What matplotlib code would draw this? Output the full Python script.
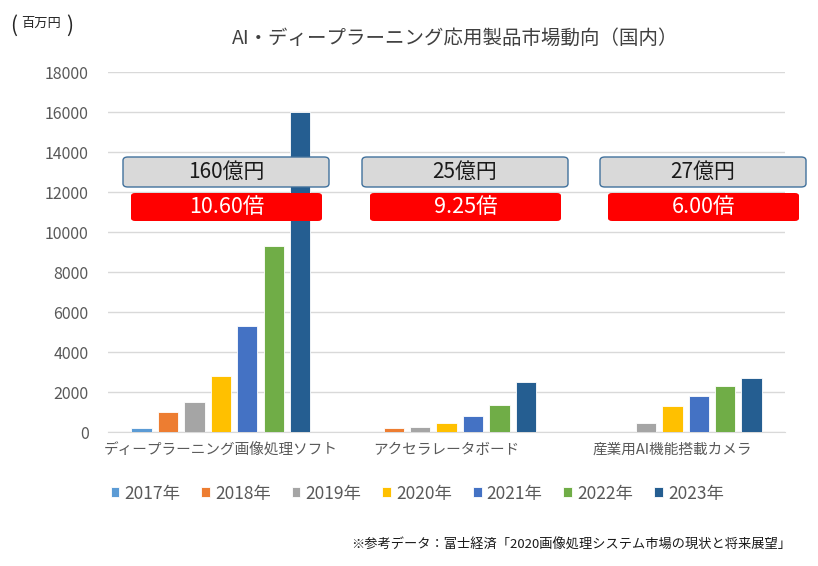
import matplotlib.pyplot as plt
import numpy as np
from matplotlib.patches import FancyBboxPatch

plt.rcParams['font.family'] = ['Noto Sans CJK JP', 'DejaVu Sans']

# data (million yen)
categories = ['ディープラーニング画像処理ソフト', 'アクセラレータボード', '産業用AI機能搭載カメラ']
years = ['2017年', '2018年', '2019年', '2020年', '2021年', '2022年', '2023年']
values = [
    [200, 0, 0],        # 2017
    [1000, 200, 0],     # 2018
    [1500, 270, 450],   # 2019
    [2800, 450, 1300],  # 2020
    [5300, 800, 1800],  # 2021
    [9300, 1350, 2300], # 2022
    [16000, 2500, 2700] # 2023
]
totals = ['160億円', '25億円', '27億円']
ratios = ['10.60倍', '9.25倍', '6.00倍']
colors = ['#5B9BD5', '#ED7D31', '#A5A5A5', '#FFC000', '#4472C4', '#70AD47', '#255E91']

fig = plt.figure(figsize=(8.18, 5.66), dpi=100)
ax = fig.add_axes([0.132, 0.2367, 0.828, 0.636])

x = np.arange(len(categories))
slot = 0.117
width = 0.09
for i, (yr, vals) in enumerate(zip(years, values)):
    ax.bar(x + (i - 3) * slot, vals, width, color=colors[i], label=yr,
           edgecolor='white', linewidth=0.6, zorder=3)

ax.set_xlim(-0.5, 2.5)
ax.set_ylim(0, 18000)
ax.set_yticks(np.arange(0, 18001, 2000))
ax.set_xticks(x)
ax.set_xticklabels(categories, fontsize=10.5, color='#595959')
ax.tick_params(axis='y', labelsize=11.5, colors='#595959', length=0, pad=14)
ax.tick_params(axis='x', length=0, pad=8)
ax.grid(axis='y', color='#d9d9d9', linewidth=1, zorder=0)
for s in ['top', 'right', 'left']:
    ax.spines[s].set_visible(False)
ax.spines['bottom'].set_color('#d9d9d9')

# title and unit
fig.text(0.556, 0.933, 'AI・ディープラーニング応用製品市場動向（国内）', ha='center', va='center',
         fontsize=14, color='#404040')
fig.text(0.012, 0.955, '(', fontsize=15, va='center', color='#262626')
fig.text(0.026, 0.958, '百万円', fontsize=9.5, va='center', color='#262626')
fig.text(0.081, 0.955, ')', fontsize=15, va='center', color='#262626')

# annotation boxes (figure coords)
box_x = [123, 362, 600]
for bx, tot, rat in zip(box_x, totals, ratios):
    w = 206 / 818
    gx = bx / 818
    gy = (566 - 187) / 566
    gh = 30 / 566
    gray = FancyBboxPatch((gx, gy), w, gh, boxstyle='round,pad=0,rounding_size=0.006',
                          transform=fig.transFigure, facecolor='#d9d9d9',
                          edgecolor='#41719C', linewidth=1, zorder=5)
    fig.patches.append(gray)
    fig.text(gx + w / 2, gy + gh / 2, tot, ha='center', va='center', fontsize=15,
             color='#1a1a1a', zorder=6)
    rx = (bx + 8) / 818
    rw = 191 / 818
    ry = (566 - 221) / 566
    rh = 28 / 566
    red = FancyBboxPatch((rx, ry), rw, rh, boxstyle='round,pad=0,rounding_size=0.005',
                         transform=fig.transFigure, facecolor='#FF0000',
                         edgecolor='none', zorder=5)
    fig.patches.append(red)
    fig.text(rx + rw / 2, ry + rh / 2, rat, ha='center', va='center', fontsize=15.5,
             color='white', zorder=6)

leg = fig.legend(loc='center left', bbox_to_anchor=(0.116, 0.128), ncol=7, frameon=False,
                 fontsize=12.5, handlelength=0.5, handleheight=0.5, handletextpad=0.3,
                 columnspacing=1.2, labelcolor='#595959')

fig.text(0.967, 0.037, '※参考データ：富士経済「2020画像処理システム市場の現状と将来展望」',
         ha='right', va='center', fontsize=9.5, color='#1a1a1a')

plt.savefig('out.png', dpi=100)
